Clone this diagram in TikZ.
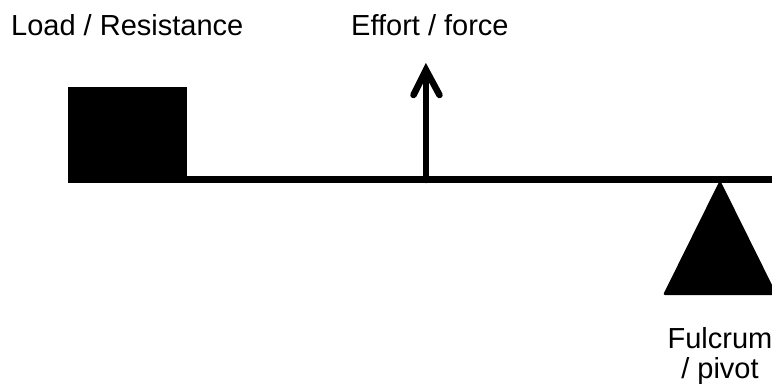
\documentclass[tikz,border=0pt]{standalone}
\usepackage{fontspec}
\setmainfont{Liberation Sans}
\begin{document}
\begin{tikzpicture}[x=1pt,y=-1pt,
  lbl/.style={inner sep=0pt,font=\fontsize{29}{30}\selectfont},
  beamline/.style={line width=7pt},
  forceline/.style={line width=6.5pt,line cap=round,line join=miter},
  loadbox/.style={fill=black,inner sep=0pt,minimum width=119pt,minimum height=96pt}]
\useasboundingbox (0,0) rectangle (772,385);
\clip (0,0) rectangle (772,385);
% load
\node[loadbox] (load) at (127.5,135) {};
% beam
\coordinate (beamL) at (68,180);
\coordinate (beamR) at (790,180);
\draw[beamline] (beamL) -- (beamR);
% effort arrow
\coordinate (effortBase) at (426,180);
\coordinate (effortTip) at (426,70);
\coordinate (wingL) at (413.5,95);
\coordinate (wingR) at (439.5,95);
\draw[forceline] (effortBase) -- (effortTip);
\draw[forceline] (wingL) -- (effortTip) -- (wingR);
% fulcrum
\coordinate (apex) at (720,180);
\coordinate (baseR) at (777,295);
\coordinate (baseL) at (663,295);
\fill[rounded corners=2pt] (apex) -- (baseR) -- (baseL) -- cycle;
% labels
\node[lbl,anchor=base west] (loadlbl) at (11,36) {Load / Resistance};
\node[lbl,anchor=base west] (effortlbl) at (351,36) {Effort / force};
\node[lbl,anchor=base] (fulcrumlbl) at (720,348) {Fulcrum};
\node[lbl,anchor=base] (pivotlbl) at (720,378) {/ pivot};
\end{tikzpicture}
\end{document}
